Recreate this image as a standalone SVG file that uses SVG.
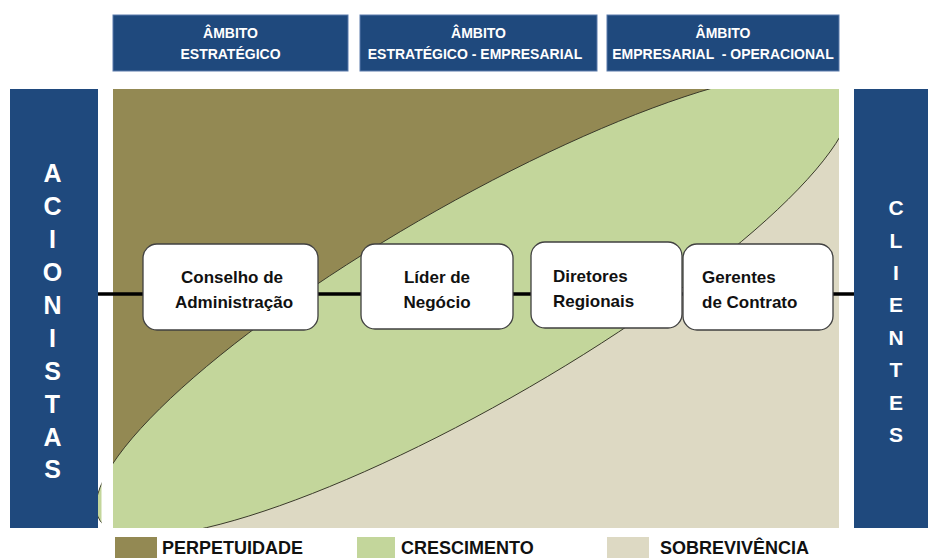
<svg xmlns="http://www.w3.org/2000/svg" width="928" height="558" viewBox="0 0 928 558">
<style>
.hdr{fill:#1F497D;stroke:#5a7bab;stroke-width:1}
.bar{fill:#1F497D}
.hdrt{font-family:"Liberation Sans",Arial,sans-serif;font-weight:bold;font-size:14px;fill:#fff;text-anchor:middle}
.vt{font-family:"Liberation Sans",Arial,sans-serif;font-weight:bold;fill:#fff;text-anchor:middle}
.node{fill:#fff;stroke:#404040;stroke-width:1.3}
.nt{font-family:"Liberation Sans",Arial,sans-serif;font-weight:bold;font-size:17px;fill:#111}
.lg{font-family:"Liberation Sans",Arial,sans-serif;font-weight:bold;font-size:18px;fill:#111}
.edge{stroke:#000;stroke-width:3.5;fill:none}
.ell{fill:#C3D69B;stroke:#3a3a2a;stroke-width:1;vector-effect:non-scaling-stroke}
</style>
<defs>
<clipPath id="main"><rect x="113" y="89" width="726" height="439"/></clipPath>
<clipPath id="sliver"><rect x="98" y="470" width="3.5" height="58"/></clipPath>
</defs>
<rect width="928" height="558" fill="#fff"/>

<g id="headers">
<rect class="hdr" x="113" y="15" width="235" height="56"/>
<text class="hdrt" x="230.5" y="38">ÂMBITO</text>
<text class="hdrt" x="230.5" y="59">ESTRATÉGICO</text>
<rect class="hdr" x="360" y="15" width="237" height="56"/>
<text class="hdrt" x="478.5" y="38">ÂMBITO</text>
<text class="hdrt" x="475" y="59">ESTRATÉGICO - EMPRESARIAL</text>
<rect class="hdr" x="607" y="15" width="232" height="56"/>
<text class="hdrt" x="723" y="38">ÂMBITO</text>
<text class="hdrt" x="723" y="59" xml:space="preserve">EMPRESARIAL  - OPERACIONAL</text>
</g>

<g id="zones">
<g clip-path="url(#main)">
<rect x="113" y="89" width="726" height="439" fill="#938953"/>
<path fill="#DDD9C3" d="M96,506.2 L852,101.8 L950,49.4 L950,600 L0,600 L0,557.6 Z"/>
<circle class="ell" cx="0" cy="0" r="1" transform="matrix(378 -202.2 0 114 474 304)"/>
</g>
<g clip-path="url(#sliver)">
<circle class="ell" cx="0" cy="0" r="1" transform="matrix(378 -202.2 0 114 474 304)"/>
</g>
</g>

<g id="acionistas">
<rect class="bar" x="10" y="89" width="88" height="439"/>
<g class="vt" font-size="25">
<text x="52.5" y="182">A</text>
<text x="52.5" y="215">C</text>
<text x="52.5" y="248">I</text>
<text x="52.5" y="281">O</text>
<text x="52.5" y="314">N</text>
<text x="52.5" y="347">I</text>
<text x="52.5" y="380">S</text>
<text x="52.5" y="413">T</text>
<text x="52.5" y="446">A</text>
<text x="52.5" y="478">S</text>
</g>
</g>

<g id="clientes">
<rect class="bar" x="854" y="89" width="74" height="439"/>
<g class="vt" font-size="21">
<text x="896" y="215">C</text>
<text x="896" y="247.5">L</text>
<text x="896" y="280">I</text>
<text x="896" y="312">E</text>
<text x="896" y="344.5">N</text>
<text x="896" y="377">T</text>
<text x="896" y="409.5">E</text>
<text x="896" y="442">S</text>
</g>
</g>

<g id="connectors">
<line class="edge" x1="98" y1="294" x2="143" y2="294"/>
<line class="edge" x1="318" y1="294" x2="361" y2="294"/>
<line class="edge" x1="513" y1="294" x2="531" y2="294"/>
<line class="edge" x1="682" y1="294" x2="683" y2="294"/>
<line class="edge" x1="833" y1="294" x2="854" y2="294"/>
</g>

<g id="conselho">
<rect class="node" x="143" y="244" width="175" height="86" rx="14"/>
<text class="nt" x="232" y="283" text-anchor="middle">Conselho de</text>
<text class="nt" x="234" y="307.5" text-anchor="middle">Administração</text>
</g>
<g id="lider">
<rect class="node" x="361" y="244" width="152" height="85" rx="14"/>
<text class="nt" x="437" y="283" text-anchor="middle">Líder de</text>
<text class="nt" x="437" y="307.5" text-anchor="middle">Negócio</text>
</g>
<g id="diretores">
<rect class="node" x="531" y="242" width="151" height="86" rx="14"/>
<text class="nt" x="553" y="281.5">Diretores</text>
<text class="nt" x="553" y="307">Regionais</text>
</g>
<g id="gerentes">
<rect class="node" x="683" y="244" width="150" height="86" rx="14"/>
<text class="nt" x="702" y="283">Gerentes</text>
<text class="nt" x="702" y="308">de Contrato</text>
</g>

<g id="legend">
<rect x="115" y="537" width="42" height="21" fill="#938953"/>
<text class="lg" x="162" y="553.5" font-size="18.8">PERPETUIDADE</text>
<rect x="357" y="537" width="38" height="21" fill="#C3D69B"/>
<text class="lg" x="401" y="553.5">CRESCIMENTO</text>
<rect x="607" y="537" width="42" height="21" fill="#DDD9C3"/>
<text class="lg" x="660" y="553.5" font-size="19.5">SOBREVIVÊNCIA</text>
</g>
</svg>
